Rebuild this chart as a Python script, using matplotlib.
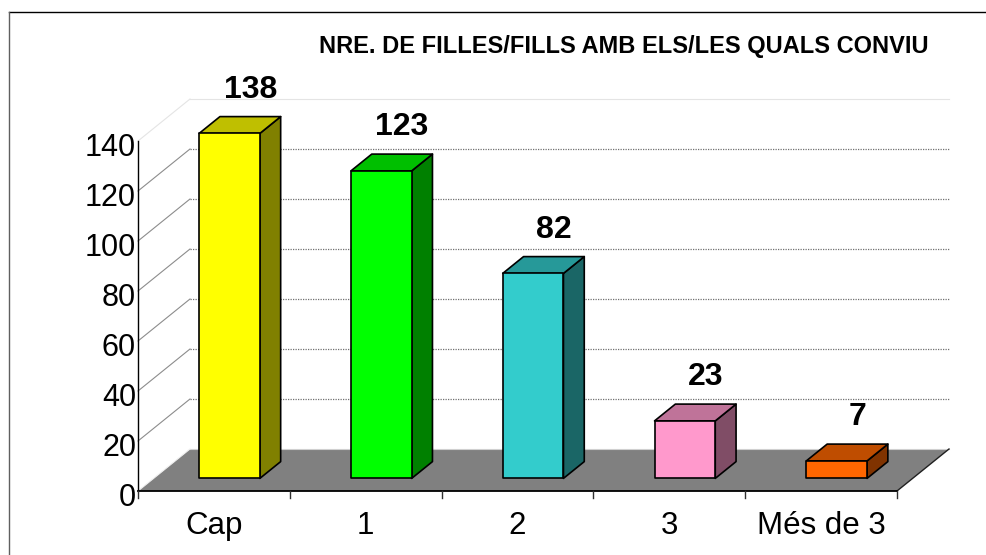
import matplotlib.pyplot as plt
from matplotlib.patches import Polygon
from matplotlib.lines import Line2D
from matplotlib.colors import to_rgb

categories = ['Cap', '1', '2', '3', 'Més de 3']
values = [138, 123, 82, 23, 7]
bar_colors = ['#FFFF00', '#00FF00', '#33CCCC', '#FF99CC', '#FF6600']
y_ticks = [0, 20, 40, 60, 80, 100, 120, 140]
title = 'NRE. DE FILLES/FILLS AMB ELS/LES QUALS CONVIU'

plt.rcParams['font.family'] = ['Liberation Sans', 'DejaVu Sans']

W, H = 987, 555
# layout in pixels: front-plane origin, one category, one value unit, wall depth
X0, Y0 = 138, 491
CAT_PX, VAL_PX = 151.8, 2.5
DX = 52 / CAT_PX
DY = 42 / VAL_PX


def proj(x, v, z):
    # oblique projection, z = 0 front plane, z = 1 back wall
    return (x + z * DX, v + z * DY)


def shade(c, f):
    r, g, b = to_rgb(c)
    return (r * f, g * f, b * f)


fig = plt.figure(figsize=(W / 100, H / 100), dpi=100)
ax = fig.add_axes([0, 0, 1, 1])
ax.set_xlim(-X0 / CAT_PX, (W - X0) / CAT_PX)
ax.set_ylim((Y0 - H) / VAL_PX, Y0 / VAL_PX)
ax.axis('off')

n = len(categories)
vmax = y_ticks[-1]

# floor
floor = [proj(0, 0, 0), proj(n, 0, 0), proj(n, 0, 1), proj(0, 0, 1)]
ax.add_patch(Polygon(floor, closed=True, facecolor='#808080', edgecolor='none', zorder=1))
ax.plot(*zip(proj(0, 0, 1), proj(n, 0, 1)), color='#d0d0d0', lw=0.8, zorder=1.5)
ax.plot(*zip(proj(0, 0, 0), proj(0, 0, 1)), color='#f0f0f0', lw=0.8, zorder=1.5)
ax.plot(*zip(proj(n, 0, 0), proj(n, 0, 1)), color='#202020', lw=1.0, zorder=1.5)
ax.plot(*zip(proj(0, 0, 0), proj(n, 0, 0)), color='black', lw=1.3, zorder=1.6)

# walls: gridlines on back wall, diagonals on left wall
for t in y_ticks[1:]:
    if t == vmax:
        col, ls, lw = '#e4e4e4', '-', 0.8
    else:
        col, ls, lw = '#707070', (0, (1, 1)), 0.9
    ax.plot(*zip(proj(0, t, 1), proj(n, t, 1)), color=col, ls=ls, lw=lw, zorder=0.5)
    ax.plot(*zip(proj(0, t, 0), proj(0, t, 1)),
            color='#e4e4e4' if t == vmax else '#8c8c8c', lw=0.8, zorder=0.5)

# value axis
ax.plot([0, 0], [0, vmax], color='black', lw=1.0, zorder=2)
for t in y_ticks:
    ax.text(-0.013, t - 6, str(t), ha='right', va='baseline', fontsize=22, zorder=3)

# category ticks and labels
for k in range(n + 1):
    ax.plot([k, k], [0, -2.6], color='#303030', lw=1.0, zorder=2)
for i, lab in enumerate(categories):
    ax.text(i + 0.5, -17.2, lab, ha='center', va='baseline', fontsize=22.5)

# 3D bars
bw, z0, z1 = 0.4, 0.3, 0.7
for i, (v, c) in enumerate(zip(values, bar_colors)):
    x0, x1 = i + 0.5 - bw / 2, i + 0.5 + bw / 2
    front = [proj(x0, 0, z0), proj(x1, 0, z0), proj(x1, v, z0), proj(x0, v, z0)]
    top = [proj(x0, v, z0), proj(x1, v, z0), proj(x1, v, z1), proj(x0, v, z1)]
    side = [proj(x1, 0, z0), proj(x1, 0, z1), proj(x1, v, z1), proj(x1, v, z0)]
    for pts, f in ((side, 0.5), (top, 0.75), (front, 1.0)):
        ax.add_patch(Polygon(pts, closed=True, facecolor=shade(c, f),
                             edgecolor='black', lw=1.2, joinstyle='round', zorder=4))
    ax.annotate(str(v), xy=proj(i + 0.5, v, z1), xytext=(0, 19.5),
                textcoords='offset points', ha='center', va='center',
                fontsize=23, fontweight='bold', zorder=5)

fig.text(624 / W, 1 - 53 / H, title, ha='center', va='baseline',
         fontsize=17, fontweight='bold')

# chart area border (only top and left visible)
fig.add_artist(Line2D([9 / W, 1], [1 - 12 / H, 1 - 12 / H], transform=fig.transFigure,
                      color='black', lw=1.0))
fig.add_artist(Line2D([9 / W, 9 / W], [0, 1 - 12 / H], transform=fig.transFigure,
                      color='#606060', lw=1.0))

fig.savefig('out.png', dpi=100)
